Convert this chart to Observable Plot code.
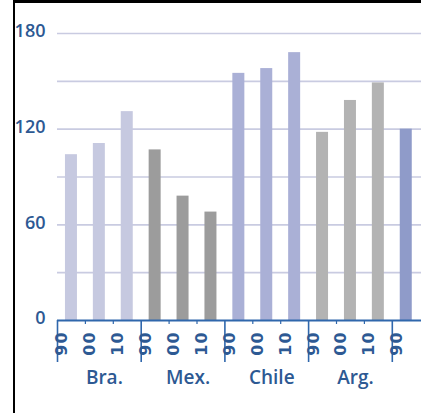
<!DOCTYPE html>
<html>
<head>
<meta charset="utf-8">
<script src="https://cdn.jsdelivr.net/npm/d3@7"></script>
<script src="https://cdn.jsdelivr.net/npm/@observablehq/plot@0.6"></script>
<style>
  html, body { margin: 0; padding: 0; background: #fff; }
  #wrap { position: relative; width: 421px; height: 413px; overflow: hidden; }
  #frame { position: absolute; left: 13px; top: 0; right: -5px; bottom: -5px;
           border-left: 2px solid #000; border-top: 3px solid #000; pointer-events: none; }
  svg text[transform*="rotate(-90)"] { letter-spacing: 1px; }
</style>
</head>
<body>
<div id="wrap"><div id="frame"></div></div>
<script>
// ---- data ----
const groups = ["Bra.", "Mex.", "Chile", "Arg.", ""];
const years = ["90", "00", "10"];
const braValues = [104, 111, 131];
const mexValues = [107, 78, 68];
const chileValues = [155, 158, 168];
const argValues = [118, 138, 149];
const nextValues = [120];
const groupColors = ["#c6c9e0", "#9c9c9c", "#aab0d6", "#b3b3b3", "#8f9bc9"];
const yLabelTicks = [0, 60, 120, 180];
const gridTicks = [30, 60, 90, 120, 150, 180];

const valueSets = [braValues, mexValues, chileValues, argValues, nextValues];
const rows = [];
valueSets.forEach((vals, gi) => {
  vals.forEach((v, yi) => {
    rows.push({key: gi + "|" + years[yi], group: groups[gi], year: years[yi], value: v,
               color: groupColors[gi], first: yi === 0, gi});
  });
});
const groupLabels = groups
  .map((g, gi) => ({g, key: gi + "|00"}))
  .filter(d => d.g !== "");

const blue = "#2f67ac";
const textBlue = "#2d5993";
const step = 27.9;
const left = 57;

const chart = Plot.plot({
  width: 421,
  height: 413,
  marginLeft: left,
  marginRight: 0,
  marginTop: 33,
  marginBottom: 93,
  style: {fontFamily: "'Open Sans', sans-serif", color: textBlue, background: "transparent"},
  x: {type: "band", domain: rows.map(d => d.key), range: [left, left + step * rows.length],
      paddingInner: 0.57, paddingOuter: 0.285, round: false, axis: null},
  y: {domain: [0, 180], axis: null},
  color: {type: "identity"},
  marks: [
    Plot.ruleY(gridTicks, {stroke: "#c9cbe1", strokeWidth: 1.6}),
    Plot.barY(rows, {x: "key", y: "value", fill: "color"}),
    Plot.ruleY([0], {stroke: blue, strokeWidth: 2.2}),
    Plot.ruleX(rows.filter(d => d.first), {x: "key", dx: -step / 2, stroke: blue, strokeWidth: 1.6,
      insetTop: 287, insetBottom: -42}),
    Plot.ruleX(rows.filter(d => !d.first), {x: "key", dx: -step / 2, stroke: blue, strokeWidth: 1.2,
      insetTop: 287, insetBottom: -4}),
    Plot.text(rows, {x: "key", text: "year", frameAnchor: "bottom", rotate: -90, dy: 23, dx: -4,
      fontSize: 16, fontWeight: 600, fontFamily: "'DejaVu Sans', sans-serif", fill: textBlue, textAnchor: "middle"}),
    Plot.text(groupLabels, {x: "key", text: "g", frameAnchor: "bottom", dy: 63, dx: 5,
      fontSize: 19, fontWeight: 600, fill: textBlue, textAnchor: "middle"}),
    Plot.text(yLabelTicks, {y: d => d, text: d => String(d), frameAnchor: "left", dx: -12, dy: -2,
      textAnchor: "end", fontSize: 18, fontWeight: 600, fill: textBlue})
  ]
});
document.getElementById("wrap").prepend(chart);
</script>
</body>
</html>
